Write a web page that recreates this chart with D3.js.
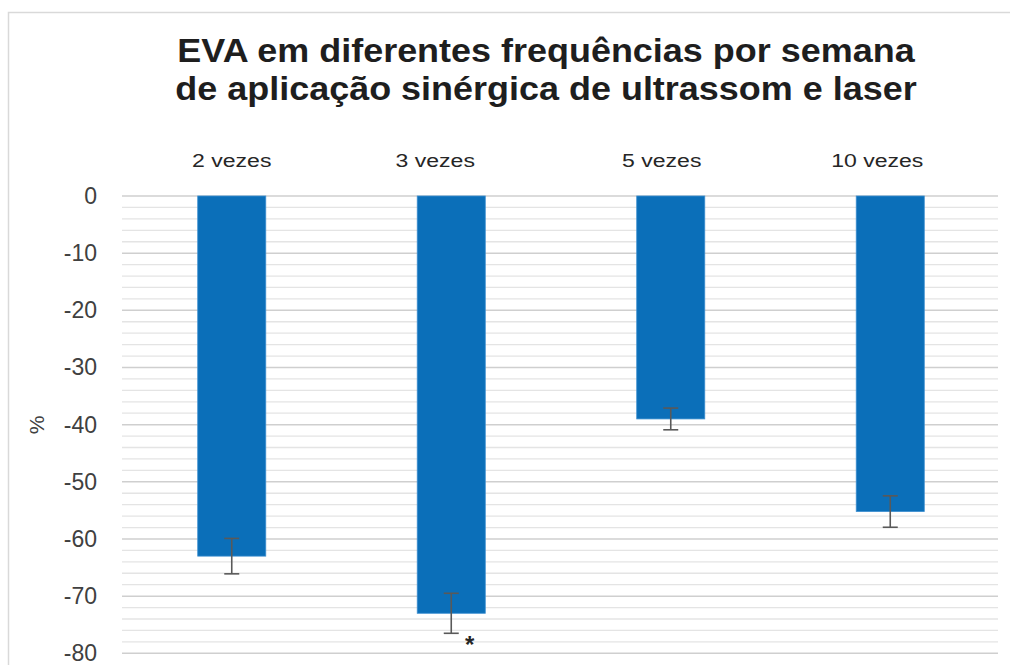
<!DOCTYPE html>
<html>
<head>
<meta charset="utf-8">
<script src="https://cdn.jsdelivr.net/npm/d3@7"></script>
<style>
  html, body { margin: 0; padding: 0; background: #ffffff; }
  svg { display: block; }
  text { font-family: "Liberation Sans", Arial, sans-serif; }
</style>
</head>
<body>
<svg id="chart" width="1010" height="665"></svg>
<script>
// Mean change in EVA (%) per weekly frequency, with standard error
const categories = ["2 vezes", "3 vezes", "5 vezes", "10 vezes"];
const values = [-63, -73, -39, -55.2];
const errors = [3.1, 3.5, 1.9, 2.75];
const marks = ["", "*", "", ""];
const yTicks = [0, -10, -20, -30, -40, -50, -60, -70, -80];
const titleLines = ["EVA em diferentes frequências por semana",
                    "de aplicação sinérgica de ultrassom e laser"];

const svg = d3.select("#chart");
const W = 1010, H = 665;
const plot = { left: 122, right: 1000, top: 196, bottom: 653.3 };

// frame of the chart area
svg.append("rect")
  .attr("x", 8.5).attr("y", 12.5)
  .attr("width", W + 20).attr("height", H + 20)
  .attr("fill", "#ffffff")
  .attr("stroke", "#d9d9d9").attr("stroke-width", 1.5);

// title
const title = svg.append("text")
  .attr("transform", "translate(546,0) scale(1.09,1)")
  .attr("text-anchor", "middle")
  .attr("font-size", 33).attr("font-weight", "bold")
  .attr("fill", "#1e1e1e");
title.selectAll("tspan").data(titleLines).join("tspan")
  .attr("x", 0)
  .attr("y", (d, i) => 62 + i * 38)
  .text(d => d);

const x = d3.scaleBand()
  .domain(categories)
  .range([plot.left, plot.right])
  .paddingInner(0.69)
  .paddingOuter(0.345);

const y = d3.scaleLinear()
  .domain([0, -80])
  .range([plot.top, plot.bottom]);

// minor gridlines every 2 units, major every 10
const minor = d3.range(0, -81, -2).filter(v => v % 10 !== 0);
svg.append("g").selectAll("line").data(minor).join("line")
  .attr("x1", plot.left).attr("x2", 998)
  .attr("y1", d => y(d)).attr("y2", d => y(d))
  .attr("stroke", "#e4e4e4").attr("stroke-width", 1.3);
svg.append("g").selectAll("line").data(yTicks).join("line")
  .attr("x1", plot.left).attr("x2", 998)
  .attr("y1", d => y(d)).attr("y2", d => y(d))
  .attr("stroke", "#cfcfcf").attr("stroke-width", 1.5);

// y axis labels (plain hyphen for negatives)
const yAxis = svg.append("g")
  .attr("transform", `translate(${plot.left},0)`)
  .call(d3.axisLeft(y).tickValues(yTicks).tickSize(0).tickPadding(25).tickFormat(d => String(d)));
yAxis.select(".domain").remove();
yAxis.selectAll("text")
  .attr("font-family", "\"Liberation Sans\", Arial, sans-serif")
  .attr("font-size", 23).attr("fill", "#404040");

// axis title
svg.append("text")
  .attr("transform", "translate(44,425) rotate(-90)")
  .attr("text-anchor", "middle")
  .attr("font-size", 21).attr("fill", "#404040")
  .text("%");

// category labels along the top
const labelShift = [0, -16, -9, -13];
svg.append("g").selectAll("text").data(categories).join("text")
  .attr("transform", (d, i) => `translate(${x(d) + x.bandwidth() / 2 + labelShift[i]},167) scale(1.28,1)`)
  .attr("text-anchor", "middle")
  .attr("font-size", 18).attr("fill", "#262626")
  .text(d => d);

const data = categories.map((c, i) => ({ c, v: values[i], e: errors[i], m: marks[i] }));

// bars
svg.append("g").selectAll("rect").data(data).join("rect")
  .attr("x", d => x(d.c))
  .attr("y", y(0))
  .attr("width", x.bandwidth())
  .attr("height", d => y(d.v) - y(0))
  .attr("fill", "#0b6fb9")
  .attr("stroke", "#3d8fd0").attr("stroke-width", 0.8);

// error bars
const eb = svg.append("g").attr("stroke", "#595959").attr("stroke-width", 1.6);
data.forEach(d => {
  const cx = x(d.c) + x.bandwidth() / 2;
  const y1 = y(d.v + d.e), y2 = y(d.v - d.e);
  eb.append("line").attr("x1", cx).attr("x2", cx).attr("y1", y1).attr("y2", y2);
  eb.append("line").attr("x1", cx - 7.5).attr("x2", cx + 7.5).attr("y1", y1).attr("y2", y1);
  eb.append("line").attr("x1", cx - 7.5).attr("x2", cx + 7.5).attr("y1", y2).attr("y2", y2);
});

// significance markers
svg.append("g").selectAll("text").data(data.filter(d => d.m)).join("text")
  .attr("x", d => x(d.c) + x.bandwidth() / 2 + 18.5)
  .attr("y", d => y(d.v - d.e) + 20)
  .attr("text-anchor", "middle")
  .attr("font-size", 24).attr("font-weight", "bold").attr("fill", "#262626")
  .text(d => d.m);
</script>
</body>
</html>
